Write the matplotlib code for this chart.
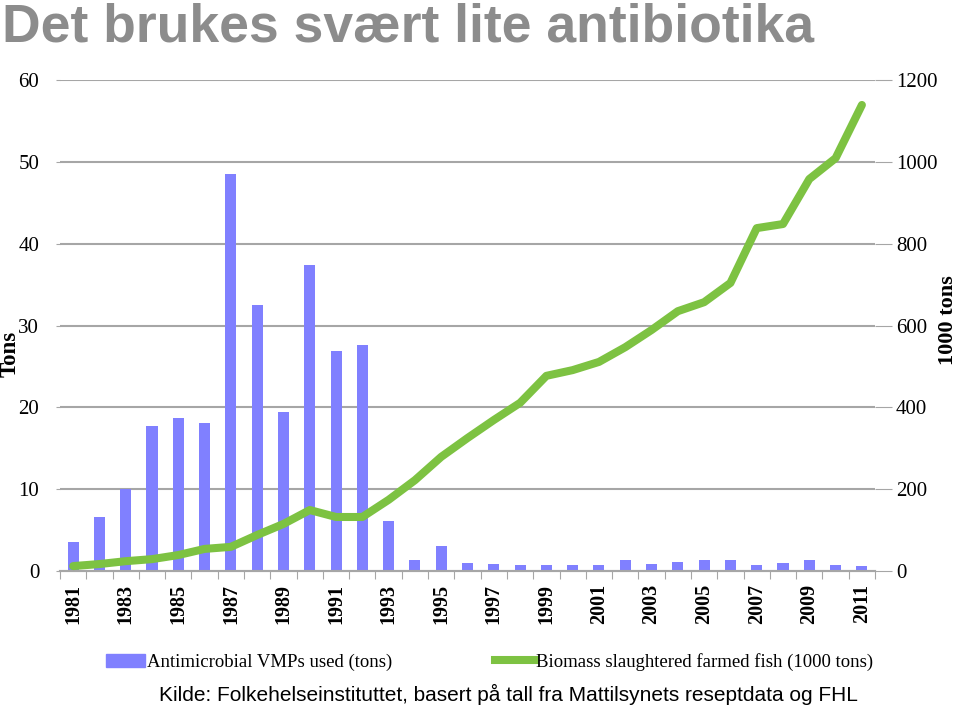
import matplotlib
matplotlib.use("Agg")
import matplotlib.pyplot as plt
from matplotlib.lines import Line2D
from matplotlib.patches import Patch
import numpy as np

years = list(range(1981, 2012))
antimicrobial_tons = [3.5, 6.6, 10.0, 17.7, 18.7, 18.1, 48.5, 32.5, 19.4, 37.4,
                      26.9, 27.6, 6.1, 1.4, 3.1, 1.0, 0.8, 0.7, 0.7, 0.7,
                      0.7, 1.3, 0.9, 1.1, 1.3, 1.4, 0.7, 1.0, 1.3, 0.7, 0.6]
biomass_kt = [12, 17, 24, 29, 39, 54, 59, 88, 115, 149,
              132, 132, 174, 222, 279, 325, 369, 411, 477, 491,
              511, 547, 589, 635, 657, 704, 838, 848, 958, 1009, 1139]
left_ticks = [0, 10, 20, 30, 40, 50, 60]
right_ticks = [0, 200, 400, 600, 800, 1000, 1200]

title = "Det brukes svært lite antibiotika"
source = "Kilde: Folkehelseinstituttet, basert på tall fra Mattilsynets reseptdata og FHL"
bar_label = "Antimicrobial VMPs used (tons)"
line_label = "Biomass slaughtered farmed fish (1000 tons)"

serif = ["Liberation Serif", "DejaVu Serif"]
sans = ["Liberation Sans", "DejaVu Sans"]

fig = plt.figure(figsize=(9.6, 7.08), dpi=100)
ax = fig.add_axes([0.0625, 0.1935, 0.849, 0.6935])
ax2 = ax.twinx()

x = np.arange(len(years))
grid_col = "#a6a6a6"

ax.set_zorder(1)
ax2.set_zorder(2)
ax.patch.set_visible(False)
ax2.patch.set_visible(False)

for v in left_ticks[1:]:
    ax.axhline(v, color=grid_col, lw=1.5, zorder=0)

ax.bar(x, antimicrobial_tons, width=0.42, color="#8080ff", zorder=2)
ax2.plot(x, biomass_kt, color="#7dc242", lw=5.8, solid_joinstyle="round",
         solid_capstyle="round", zorder=3)

ax.set_xlim(-0.5, len(years) - 0.5)
ax.set_ylim(0, 60)
ax2.set_ylim(0, 1200)

ax.set_yticks(left_ticks)
ax.set_yticklabels([str(t) for t in left_ticks], fontfamily=serif, fontsize=15)
ax.tick_params(axis="y", length=3, color=grid_col, pad=12)
ax2.set_yticks(right_ticks)
ax2.set_yticklabels([str(t) for t in right_ticks], fontfamily=serif, fontsize=15)
ax2.tick_params(axis="y", length=12, color=grid_col, pad=3)

# x ticks at category boundaries, labels on odd years
ax.set_xticks(np.arange(-0.5, len(years) + 0.5, 1.0))
ax.set_xticklabels([])
ax.tick_params(axis="x", length=6, color=grid_col)
for i, yr in enumerate(years):
    if i % 2 == 0:
        ax.text(i, -1.6, str(yr), rotation=90, ha="center", va="top",
                fontfamily=serif, fontsize=14.5, fontweight="bold")

for a in (ax, ax2):
    for s in ("top", "left", "right"):
        a.spines[s].set_visible(False)
    a.spines["bottom"].set_color(grid_col)
    a.spines["bottom"].set_linewidth(1.5)

fig.text(0.0105, 0.50, "Tons", rotation=90, ha="center", va="center",
         fontfamily=serif, fontsize=16.5, fontweight="bold")
fig.text(0.988, 0.548, "1000 tons", rotation=90, ha="center", va="center",
         fontfamily=serif, fontsize=16, fontweight="bold")

handles = [Patch(color="#8080ff"), Line2D([0], [0], color="#7dc242", lw=5.8)]
fig.legend(handles, [bar_label, line_label], loc="center",
           bbox_to_anchor=(0.51, 0.065), ncol=2, frameon=False,
           prop={"family": serif, "size": 13.5}, handlelength=2.1,
           columnspacing=5.5, handletextpad=0.1)

fig.text(0.002, 0.997, title, ha="left", va="top", fontfamily=sans,
         fontsize=38.5, fontweight="bold", color="#8c8c8c")
fig.text(0.530, 0.004, source, ha="center", va="bottom", fontfamily=sans,
         fontsize=15, color="black")

fig.savefig("out.png", dpi=100)
